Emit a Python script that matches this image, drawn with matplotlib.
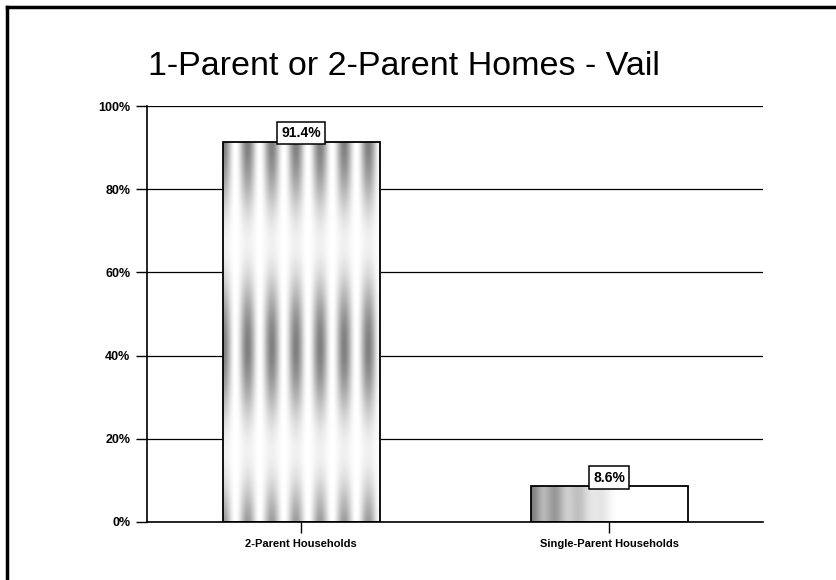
import matplotlib.pyplot as plt
import numpy as np
from matplotlib.lines import Line2D

# household type shares, percent
categories = ["2-Parent Households", "Single-Parent Households"]
shares = [91.4, 8.6]
y_ticks = [0, 20, 40, 60, 80, 100]

plt.rcParams['font.family'] = ['Liberation Sans', 'DejaVu Sans']

fig = plt.figure(figsize=(8.36, 5.8), dpi=100)
ax = fig.add_axes([0.176, 0.1, 0.737, 0.717])

x = np.arange(len(categories))
bars = ax.bar(x, shares, width=0.51, color='none', edgecolor='black', linewidth=1.3, zorder=3)

# mottled grey shading inside each bar
for i, b in enumerate(bars):
    x0, w, h = b.get_x(), b.get_width(), b.get_height()
    nx, ny = 160, 400
    u = np.linspace(0, 1, nx)[None, :]
    v = np.linspace(0, h / 100.0, ny)[:, None]
    stripes = 0.5 + 0.5 * np.cos(2 * np.pi * 6.5 * u)
    bands = 0.5 + 0.5 * np.cos(2 * np.pi * (v - 0.42) / 0.5)
    if i == 1:
        side = np.clip(1.1 - 2.0 * u, 0, 1)
        shade = 0.5 * side * (0.6 + 0.4 * stripes) + 0.0 * v
    else:
        shade = 0.5 * stripes * (0.12 + 0.88 * bands)
    img = 1.0 - shade
    im = ax.imshow(img, cmap='gray', vmin=0, vmax=1, origin='lower',
                   extent=(x0, x0 + w, 0, h), aspect='auto', zorder=2,
                   interpolation='bilinear')
    im.set_clip_path(b)

ax.set_xlim(-0.5, 1.5)
ax.set_ylim(0, 100)
ax.set_yticks(y_ticks)
ax.set_yticklabels([f"{t}%" for t in y_ticks], fontsize=9, fontweight='bold')
ax.set_xticks(x)
ax.set_xticklabels(categories, fontsize=8, fontweight='bold')
ax.tick_params(axis='both', direction='out', length=8, width=1, color='black', pad=4)
ax.yaxis.grid(True, color='black', linewidth=0.9, zorder=1)
ax.set_axisbelow(True)
for s in ['top', 'right']:
    ax.spines[s].set_visible(False)
ax.spines['left'].set_linewidth(1.2)
ax.spines['bottom'].set_linewidth(1.2)

# value labels in small boxes sitting on the bars
for b, val in zip(bars, shares):
    ax.annotate(f"{val}%", (b.get_x() + b.get_width() / 2, val),
                xytext=(0, 1.2), textcoords='offset points', ha='center', va='bottom',
                fontsize=10, fontweight='bold', zorder=5,
                bbox=dict(boxstyle='square,pad=0.3', fc='white', ec='black', lw=1.1))

fig.text(0.177, 0.885, "1-Parent or 2-Parent Homes - Vail", fontsize=24.5, ha='left', va='center')

# frame on the left and top edges
fig.add_artist(Line2D([0.008, 0.008], [0.0, 0.988], transform=fig.transFigure, color='black', lw=2.5))
fig.add_artist(Line2D([0.008, 1.0], [0.988, 0.988], transform=fig.transFigure, color='black', lw=2.5))

fig.savefig("out.png", dpi=100)
